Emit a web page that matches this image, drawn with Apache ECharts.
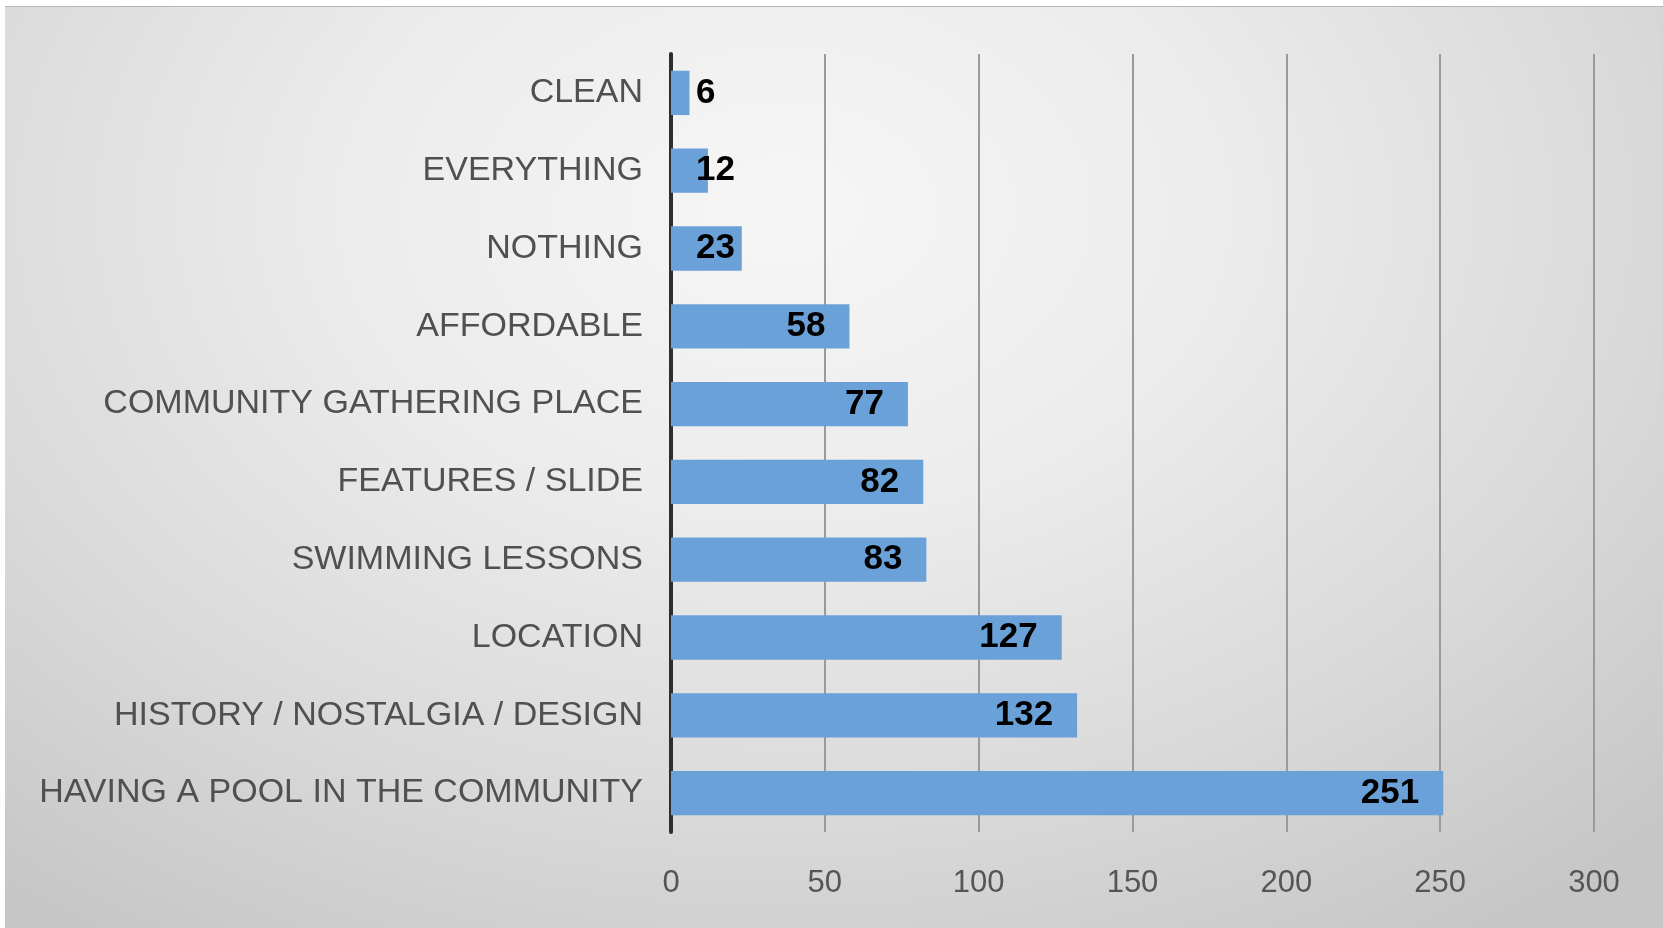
<!DOCTYPE html>
<html>
<head>
<meta charset="utf-8">
<script src="https://cdn.jsdelivr.net/npm/echarts@6/dist/echarts.min.js"></script>
<style>
html,body{margin:0;padding:0;width:1663px;height:928px;background:#ffffff;overflow:hidden;}
#bg{position:absolute;left:5px;top:6px;right:0;bottom:0;
  border-top:1px solid #b8b8b8;
  background:radial-gradient(ellipse 75% 95% at 47% 22%, #f6f6f6 0%, #ececec 35%, #d9d9d9 70%, #c6c6c6 100%);}
#chart{position:absolute;left:0;top:0;width:1663px;height:928px;}
</style>
</head>
<body>
<div id="bg"></div>
<div id="chart"></div>
<script>
const categories = [
  "HAVING A POOL IN THE COMMUNITY",
  "HISTORY / NOSTALGIA / DESIGN",
  "LOCATION",
  "SWIMMING LESSONS",
  "FEATURES / SLIDE",
  "COMMUNITY GATHERING PLACE",
  "AFFORDABLE",
  "NOTHING",
  "EVERYTHING",
  "CLEAN"
];
const counts = [251, 132, 127, 83, 82, 77, 58, 23, 12, 6];
const xTicks = [0, 50, 100, 150, 200, 250, 300];

const chart = echarts.init(document.getElementById('chart'), null, {renderer: 'canvas'});
const barData = counts.map(v => (v < 30
  ? {value: v, label: {position: 'insideLeft', distance: 25}}
  : {value: v}));

chart.setOption({
  backgroundColor: 'transparent',
  animation: false,
  grid: {left: 671, right: 69, top: 54, bottom: 96, containLabel: false},
  xAxis: {
    type: 'value',
    min: xTicks[0],
    max: xTicks[xTicks.length - 1],
    interval: 50,
    axisLine: {show: false},
    axisTick: {show: false},
    axisLabel: {
      color: '#555555',
      fontSize: 31,
      fontFamily: 'Liberation Sans',
      margin: 36
    },
    splitLine: {show: true, lineStyle: {color: '#9a9a9a', width: 2}}
  },
  yAxis: {
    type: 'category',
    data: categories,
    axisLine: {show: true, lineStyle: {color: '#2e2e2e', width: 4}},
    axisTick: {show: false},
    axisLabel: {
      color: '#505050',
      fontSize: 34,
      fontFamily: 'Liberation Sans',
      margin: 28,
      padding: [9, 0, 0, 0]
    },
    splitLine: {show: false}
  },
  series: [{
    type: 'bar',
    data: barData,
    barCategoryGap: '43%',
    itemStyle: {color: '#6aa1d8', opacity: 1},
    label: {
      show: true,
      position: 'insideRight',
      distance: 24,
      color: '#000000',
      fontWeight: 'bold',
      fontSize: 35,
      fontFamily: 'Liberation Sans',
      padding: [10, 0, 0, 0]
    }
  }]
});
</script>
</body>
</html>
